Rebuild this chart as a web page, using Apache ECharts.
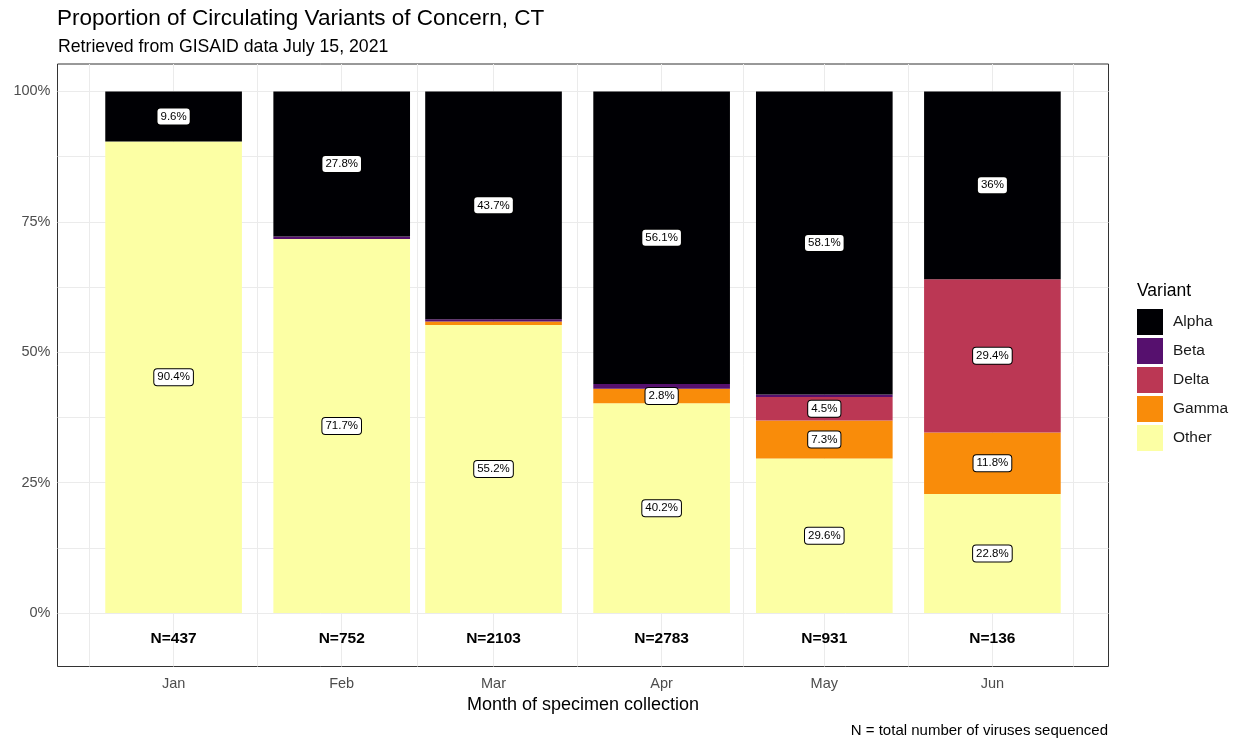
<!DOCTYPE html>
<html>
<head>
<meta charset="utf-8">
<script src="https://cdn.jsdelivr.net/npm/echarts@6/dist/echarts.min.js"></script>
<style>
html,body{margin:0;padding:0;background:#fff;}
#chart{width:1241px;height:740px;}
</style>
</head>
<body>
<div id="chart"></div>
<script>
// ---- data ----
const months = ['Jan', 'Feb', 'Mar', 'Apr', 'May', 'Jun'];
const monthDay = [0, 31, 59, 90, 120, 151];          // day of year (from Jan 1) of each month
const nTotals = [437, 752, 2103, 2783, 931, 136];
const nLabelY = -5;                                   // N labels sit at -5%
const variants = ['Alpha', 'Beta', 'Delta', 'Gamma', 'Other'];
const alpha = [9.6, 27.8, 43.7, 56.1, 58.1, 36];
const beta  = [0, 0.5, 0.4, 0.9, 0.5, 0];
const delta = [0, 0, 0, 0, 4.5, 29.4];
const gamma = [0, 0, 0.7, 2.8, 7.3, 11.8];
const other = [90.4, 71.7, 55.2, 40.2, 29.6, 22.8];
const yTicks = [0, 25, 50, 75, 100];
const yMinor = [12.5, 37.5, 62.5, 87.5];
const xMinor = [-15.5, 15.5, 45, 74.5, 105, 135.5, 166];

const colors = {Alpha: '#000004', Beta: '#56106E', Delta: '#BB3754', Gamma: '#F98C0A', Other: '#FCFFA4'};
const FONT = '"Liberation Sans", Arial, sans-serif';
const BAR_DAYS = 0.9 * 28;   // ggplot default width: 0.9 x smallest spacing (28 days)

// stacking order from bottom to top
const stackOrder = [['Other', other], ['Gamma', gamma], ['Delta', delta], ['Beta', beta], ['Alpha', alpha]];

const chart = echarts.init(document.getElementById('chart'), null, {renderer: 'canvas'});

const base = monthDay.map(() => 0);
const barSeries = stackOrder.map(([name, vals]) => {
  const data = vals.map((v, i) => {
    const item = [monthDay[i], v, base[i]];
    base[i] += v;
    return item;
  });
  return {
    name: name,
    type: 'custom',
    z: 3,
    silent: true,
    itemStyle: {color: colors[name]},
    encode: {x: 0, y: [1, 2]},
    data: data,
    renderItem: (params, api) => {
      const x = api.value(0), v = api.value(1), b = api.value(2);
      if (!(v > 0)) return null;
      const pTL = api.coord([x - BAR_DAYS / 2, b + v]);
      const pBR = api.coord([x + BAR_DAYS / 2, b]);
      const children = [{
        type: 'rect',
        shape: {x: pTL[0], y: pTL[1], width: pBR[0] - pTL[0], height: pBR[1] - pTL[1]},
        style: {fill: colors[name]}
      }];
      if (v >= 1) {
        const c = api.coord([x, b + v / 2]);
        children.push({
          type: 'text',
          z2: 10,
          style: {
            text: v + '%', x: c[0], y: c[1], align: 'center', verticalAlign: 'middle',
            font: '11.5px ' + FONT, fill: '#000',
            backgroundColor: '#fff', borderColor: '#000', borderWidth: 1, borderRadius: 3,
            padding: [2, 3, 2, 3]
          }
        });
      }
      return {type: 'group', children: children};
    }
  };
});

const gridLines = [];
yTicks.concat(yMinor).forEach(v => gridLines.push({yAxis: v}));
monthDay.concat(xMinor).forEach(v => gridLines.push({xAxis: v}));

const option = {
  animation: false,
  backgroundColor: '#fff',
  textStyle: {fontFamily: FONT},
  title: [
    {text: 'Proportion of Circulating Variants of Concern, CT', left: 57, top: 7, padding: 0,
     textStyle: {fontFamily: FONT, fontSize: 22.5, fontWeight: 'normal', color: '#000'}},
    {text: 'Retrieved from GISAID data July 15, 2021', left: 58, top: 38, padding: 0,
     textStyle: {fontFamily: FONT, fontSize: 17.7, fontWeight: 'normal', color: '#000'}},
    {text: 'N = total number of viruses sequenced', right: 133, top: 723, padding: 0,
     textStyle: {fontFamily: FONT, fontSize: 15, fontWeight: 'normal', color: '#000'}},
    {text: 'Variant', left: 1137, top: 282, padding: 0,
     textStyle: {fontFamily: FONT, fontSize: 17.5, fontWeight: 'normal', color: '#000'}}
  ],
  legend: {
    data: variants,
    orient: 'vertical',
    left: 1137,
    top: 309,
    padding: 0,
    icon: 'rect',
    itemWidth: 26,
    itemHeight: 26,
    itemGap: 3,
    textStyle: {fontFamily: FONT, fontSize: 15.5, color: '#1a1a1a', padding: [0, 0, 0, 5]},
    selectedMode: false
  },
  grid: {
    left: 57.5, right: 132.5, top: 64, bottom: 73.5,
    show: true, borderColor: '#333333', borderWidth: 1, backgroundColor: '#fff'
  },
  xAxis: {
    type: 'value',
    min: -21.41, max: 172.41,
    name: 'Month of specimen collection',
    nameLocation: 'middle',
    nameGap: 29,
    nameTextStyle: {fontFamily: FONT, fontSize: 18, color: '#000'},
    splitLine: {show: false},
    axisLine: {show: false},
    axisTick: {show: true, length: 4, lineStyle: {color: '#333'}, customValues: monthDay},
    axisLabel: {
      fontFamily: FONT, fontSize: 14.5, color: '#4D4D4D', margin: 10,
      customValues: monthDay,
      formatter: v => months[monthDay.indexOf(v)] || ''
    }
  },
  yAxis: {
    type: 'value',
    min: -10.25, max: 105.25,
    splitLine: {show: false},
    axisLine: {show: false},
    axisTick: {show: true, length: 4, lineStyle: {color: '#333'}, customValues: yTicks},
    axisLabel: {
      fontFamily: FONT, fontSize: 14.5, color: '#4D4D4D', margin: 7,
      customValues: yTicks,
      formatter: v => v + '%'
    }
  },
  series: [
    {
      name: 'grid', type: 'line', data: [], z: 1, silent: true,
      markLine: {silent: true, z: 1, symbol: ['none', 'none'], label: {show: false}, animation: false,
        emphasis: {disabled: true},
        lineStyle: {type: 'solid', color: '#EBEBEB', width: 1}, data: gridLines}
    },
    ...barSeries,
    {
      name: 'N', type: 'custom', z: 4, silent: true,
      encode: {x: 0, y: 1},
      data: nTotals.map((n, i) => [monthDay[i], nLabelY, n]),
      renderItem: (params, api) => {
        const c = api.coord([api.value(0), api.value(1)]);
        return {
          type: 'text',
          style: {
            text: 'N=' + api.value(2), x: c[0], y: c[1], align: 'center', verticalAlign: 'middle',
            font: 'bold 15.5px ' + FONT, fill: '#000'
          }
        };
      }
    }
  ]
};
chart.setOption(option);
</script>
</body>
</html>
